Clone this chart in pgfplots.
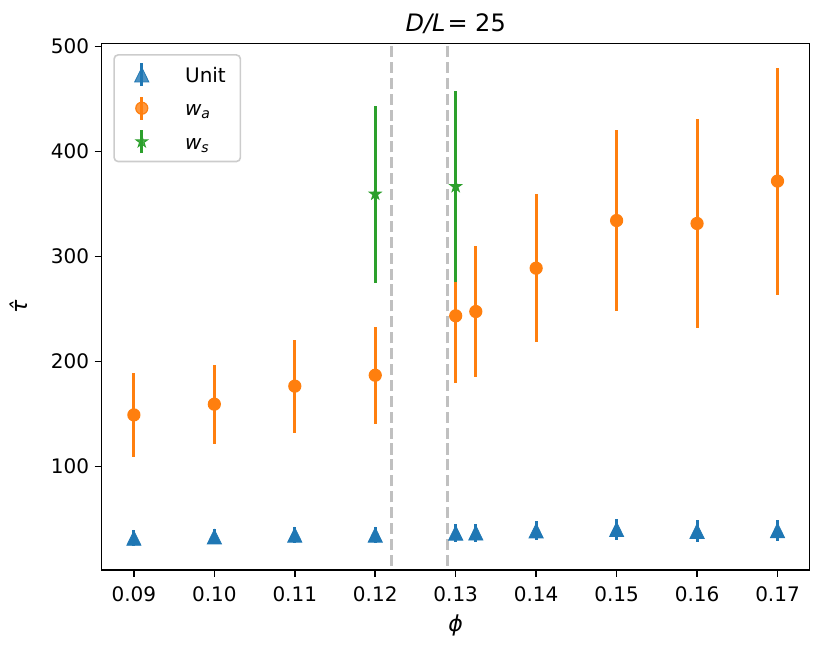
\documentclass[border=0pt]{standalone}
\usepackage{fontspec}
\setmainfont{DejaVu Sans}
\usepackage{pgfplots}
\usepackage{pgfplotstable}
\pgfplotsset{compat=1.18}
\definecolor{c0}{HTML}{1F77B4}
\definecolor{c1}{HTML}{FF7F0E}
\definecolor{c2}{HTML}{2CA02C}
\definecolor{vgray}{HTML}{C0C0C0}
\pgfdeclareplotmark{fstar}{%
  \pgfpathmoveto{\pgfpointpolar{90}{\pgfplotmarksize}}%
  \pgfpathlineto{\pgfpointpolar{126}{0.382\pgfplotmarksize}}%
  \pgfpathlineto{\pgfpointpolar{162}{\pgfplotmarksize}}%
  \pgfpathlineto{\pgfpointpolar{198}{0.382\pgfplotmarksize}}%
  \pgfpathlineto{\pgfpointpolar{234}{\pgfplotmarksize}}%
  \pgfpathlineto{\pgfpointpolar{270}{0.382\pgfplotmarksize}}%
  \pgfpathlineto{\pgfpointpolar{306}{\pgfplotmarksize}}%
  \pgfpathlineto{\pgfpointpolar{342}{0.382\pgfplotmarksize}}%
  \pgfpathlineto{\pgfpointpolar{18}{\pgfplotmarksize}}%
  \pgfpathlineto{\pgfpointpolar{54}{0.382\pgfplotmarksize}}%
  \pgfpathclose
  \pgfusepathqfillstroke}
\pgfplotsset{
  errleg/.style={legend image code/.code={
    \path[draw=none, fill=none] (0pt,-5.7pt) rectangle (28.2pt,5.7pt);
    \draw[line width=1.5pt, #1, solid] (8.54pt,-5.67pt) -- (8.54pt,5.67pt);
    \draw[##1] plot[only marks] coordinates {(8.54pt,0pt)};}}
}
\pgfplotstableread{
x y e
0.09 31.6 7.6
0.10 32.9 7.1
0.11 34.6 7.3
0.12 34.6 8.0
0.13 36.5 8.3
0.1325 36.6 8.7
0.14 38.6 9.0
0.15 39.9 9.7
0.16 38.2 10.5
0.17 38.9 10.0
}\unitdata
\pgfplotstableread{
x y e
0.09 149.0 39.7
0.10 159.2 37.8
0.11 176.4 44.4
0.12 186.8 46.4
0.13 243.4 64.0
0.1325 247.5 62.3
0.14 288.8 70.7
0.15 334.2 86.3
0.16 331.4 99.7
0.17 371.8 108.2
}\wadata
\pgfplotstableread{
x y e
0.12 359.4 84.4
0.13 366.6 90.8
}\wsdata
\begin{document}
\begin{tikzpicture}
\begin{axis}[
  at={(50.85pt,41.5pt)}, anchor=south west,
  scale only axis, width=354pt, height=263.2pt,
  xmin=0.086, xmax=0.174, ymin=1.2, ymax=502.8,
  xtick={0.09,0.1,0.11,0.12,0.13,0.14,0.15,0.16,0.17},
  xticklabels={0.09,0.10,0.11,0.12,0.13,0.14,0.15,0.16,0.17},
  ytick={100,200,300,400,500},
  tick pos=left, tick align=outside, major tick length=3.5pt,
  every tick/.style={black, line width=0.8pt},
  axis line style={line width=0.8pt},
  ticklabel style={font=\fontsize{10}{12}\selectfont},
  /pgf/number format/assume math mode=true,
  xticklabel style={anchor=base, inner sep=0pt, yshift=-12pt},
  yticklabel style={anchor=east, inner sep=0pt, xshift=-2.6pt},
  every axis title shift/.style={yshift=0pt},
  title={{\itshape D/L}\kern1pt= 25},
  title style={at={(axis description cs:0.5,1.001)}, anchor=base, font=\fontsize{12}{14}\selectfont},
  xlabel={\itshape ϕ},
  xlabel style={at={(axis description cs:0.5,-0.106)}, anchor=center, font=\fontsize{11}{13}\selectfont},
  ylabel={\itshape τ̂},
  ylabel style={at={(axis description cs:-0.117,0.5)}, anchor=center, font=\fontsize{11}{13}\selectfont},
  legend style={at={(axis description cs:0.0164,0.980)}, anchor=north west,
    draw=black!20, line width=0.8pt, rounded corners=2pt, fill=white, fill opacity=0.8, text opacity=1, draw opacity=1,
    inner xsep=5.3pt, inner ysep=1.9pt, row sep=0.75pt,
    nodes={inner sep=2pt, text height=9.65pt, text depth=2.35pt},
    font=\fontsize{10}{12}\selectfont},
  legend cell align=left,
]
\addplot[forget plot, color=vgray, line width=1.5pt, dash pattern=on 5.55pt off 2.4pt] coordinates {(0.122,-10) (0.122,600)};
\addplot[forget plot, color=vgray, line width=1.5pt, dash pattern=on 5.55pt off 2.4pt] coordinates {(0.129,-10) (0.129,600)};
\addplot[only marks, color=c0, mark=triangle*, mark size=4.8pt,
  mark options={solid, fill=c0, draw=c0, line width=0.4pt, xscale=0.85, yshift=-1.2pt},
  errleg=c0,
  error bars/.cd, y dir=both, y explicit, error mark=none,
  error bar style={line width=1.5pt, c0, solid}]
  table[x=x, y=y, y error=e] {\unitdata};
\addlegendentry{Unit}
\addplot[only marks, color=c1, mark=*, mark size=3pt,
  mark options={solid, fill=c1, draw=c1, line width=0.6pt},
  errleg=c1,
  error bars/.cd, y dir=both, y explicit, error mark=none,
  error bar style={line width=1.5pt, c1, solid}]
  table[x=x, y=y, y error=e] {\wadata};
\addlegendentry{{\itshape w\textsubscript{a}}}
\addplot[only marks, color=c2, mark=fstar, mark size=3pt,
  mark options={solid, fill=c2, draw=c2, line width=0.5pt},
  errleg=c2,
  error bars/.cd, y dir=both, y explicit, error mark=none,
  error bar style={line width=1.5pt, c2, solid}]
  table[x=x, y=y, y error=e] {\wsdata};
\addlegendentry{{\itshape w\textsubscript{s}}}
\end{axis}
\pgfresetboundingbox
\path[use as bounding box] (0,0) rectangle (415pt,326.5pt);
\end{tikzpicture}
\end{document}
